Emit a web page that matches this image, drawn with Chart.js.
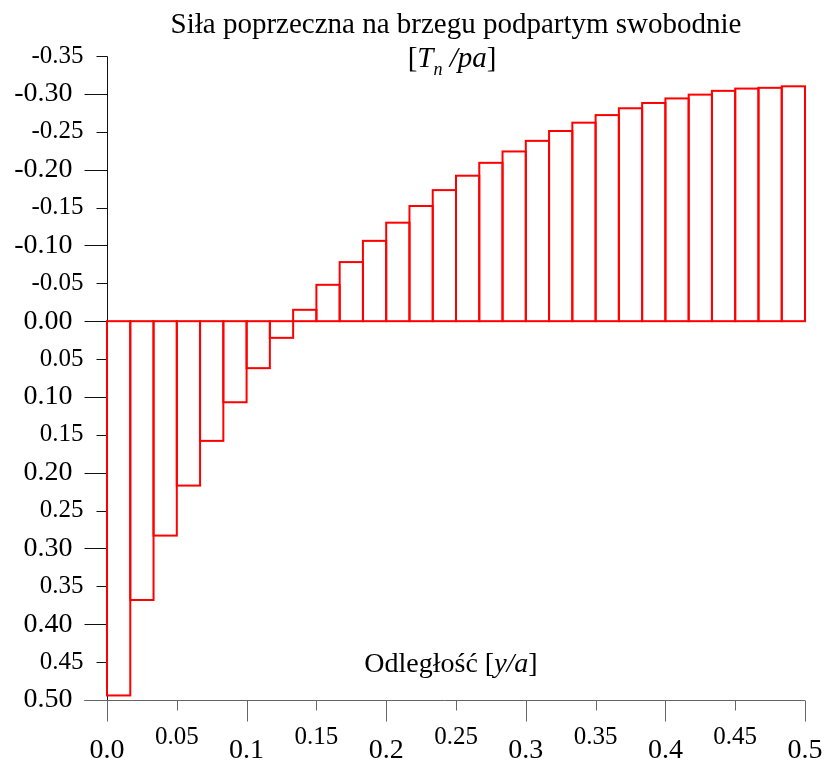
<!doctype html>
<html lang="pl">
<head>
<meta charset="utf-8">
<title>Siła poprzeczna na brzegu podpartym swobodnie</title>
<style>
  html, body { margin: 0; padding: 0; background: #fff; }
  #wrap { width: 825px; height: 760px; }
</style>
</head>
<body>
<div id="wrap"><canvas id="chart" width="825" height="760"></canvas></div>
<script src="https://cdn.jsdelivr.net/npm/chart.js"></script>
<script>
// shear force T_n/pa for each of the 30 strips along y/a (0 .. 0.5)
const shear = [0.494, 0.368, 0.283, 0.217, 0.158, 0.107, 0.062, 0.022, -0.015, -0.048,
               -0.078, -0.106, -0.130, -0.152, -0.173, -0.192, -0.209, -0.224, -0.238, -0.251,
               -0.262, -0.272, -0.281, -0.288, -0.294, -0.299, -0.304, -0.307, -0.308, -0.310];
const stripWidth = 0.5 / 30;
const distance = shear.map((v, i) => stripWidth * (i + 0.5));

const xMajor = [0, 0.1, 0.2, 0.3, 0.4, 0.5];
const xMajorLabels = ['0.0', '0.1', '0.2', '0.3', '0.4', '0.5'];
const xMinor = [0.05, 0.15, 0.25, 0.35, 0.45];
const xMinorLabels = ['0.05', '0.15', '0.25', '0.35', '0.45'];
const yMajor = [-0.3, -0.2, -0.1, 0, 0.1, 0.2, 0.3, 0.4, 0.5];
const yMinor = [-0.35, -0.25, -0.15, -0.05, 0.05, 0.15, 0.25, 0.35, 0.45];

const serif = '"Liberation Serif", "Times New Roman", serif';
const crisp = v => Math.round(v) + 0.5;

// axes, ticks and texts drawn by hand (major/minor ticks differ in size)
const frame = {
  id: 'frame',
  beforeDatasetsDraw(chart) {
    const { ctx, chartArea, scales: { x, y } } = chart;
    const x0 = crisp(x.getPixelForValue(0));
    const xr = x.getPixelForValue(0.5);
    const yt = crisp(y.getPixelForValue(-0.35));
    const yb = crisp(y.getPixelForValue(0.5));
    ctx.save();
    ctx.lineWidth = 1;

    // y axis
    ctx.strokeStyle = '#111';
    ctx.beginPath();
    ctx.moveTo(x0, yt);
    ctx.lineTo(x0, yb);
    yMajor.forEach(v => {
      const p = crisp(y.getPixelForValue(v));
      ctx.moveTo(x0 - 23, p);
      ctx.lineTo(x0, p);
    });
    yMinor.forEach(v => {
      const p = crisp(y.getPixelForValue(v));
      ctx.moveTo(x0 - 11, p);
      ctx.lineTo(x0, p);
    });
    ctx.stroke();

    // x axis
    ctx.strokeStyle = '#666';
    ctx.beginPath();
    ctx.moveTo(x0 - 23, yb);
    ctx.lineTo(xr, yb);
    xMajor.forEach(v => {
      const p = crisp(x.getPixelForValue(v));
      ctx.moveTo(p, yb);
      ctx.lineTo(p, yb + 21);
    });
    xMinor.forEach(v => {
      const p = crisp(x.getPixelForValue(v));
      ctx.moveTo(p, yb);
      ctx.lineTo(p, yb + 10);
    });
    ctx.stroke();

    // tick labels
    ctx.fillStyle = '#000';
    ctx.textAlign = 'right';
    ctx.textBaseline = 'middle';
    ctx.font = '28px ' + serif;
    yMajor.forEach(v => ctx.fillText(v.toFixed(2), x0 - 35, y.getPixelForValue(v)));
    ctx.font = '25px ' + serif;
    yMinor.forEach(v => ctx.fillText(v.toFixed(2), x0 - 24, y.getPixelForValue(v)));

    ctx.textAlign = 'center';
    ctx.textBaseline = 'alphabetic';
    ctx.font = '28px ' + serif;
    xMajor.forEach((v, i) => ctx.fillText(xMajorLabels[i], x.getPixelForValue(v), yb + 57));
    ctx.font = '25px ' + serif;
    xMinor.forEach((v, i) => ctx.fillText(xMinorLabels[i], x.getPixelForValue(v), yb + 43));

    // title
    const cx = (chartArea.left + chartArea.right) / 2;
    ctx.font = '29px ' + serif;
    ctx.fillText('Siła poprzeczna na brzegu podpartym swobodnie', cx, 33);
    drawRich(ctx, [
      ['[', '29px', 0],
      ['T', 'italic 29px', 0],
      ['n', 'italic 18px', 8],
      [' /pa', 'italic 29px', 0],
      [']', '29px', 0]
    ], cx - 4, 67);

    // x axis title, inside the plot
    drawRich(ctx, [
      ['Odległość [', '28px', 0],
      ['y/a', 'italic 28px', 0],
      [']', '28px', 0]
    ], cx - 5, 672);
    ctx.restore();
  },
  afterDatasetsDraw(chart) {
    const { ctx } = chart;
    ctx.save();
    ctx.strokeStyle = '#ff0000';
    ctx.lineWidth = 2;
    chart.getDatasetMeta(0).data.forEach(bar => {
      const { x, y, base, width } = bar.getProps(['x', 'y', 'base', 'width'], true);
      ctx.strokeRect(x - width / 2, Math.min(y, base), width, Math.abs(base - y));
    });
    ctx.restore();
  }
};

function drawRich(ctx, parts, center, baseline) {
  let total = 0;
  parts.forEach(([t, f]) => { ctx.font = f + ' ' + serif; total += ctx.measureText(t).width; });
  let px = center - total / 2;
  ctx.textAlign = 'left';
  parts.forEach(([t, f, dy]) => {
    ctx.font = f + ' ' + serif;
    ctx.fillText(t, px, baseline + dy);
    px += ctx.measureText(t).width;
  });
  ctx.textAlign = 'center';
}

new Chart(document.getElementById('chart'), {
  type: 'bar',
  data: {
    datasets: [{
      data: distance.map((d, i) => ({ x: d, y: shear[i] })),
      backgroundColor: 'rgba(255,255,255,0)',
      borderWidth: 0,
      barPercentage: 1,
      categoryPercentage: 1
    }]
  },
  options: {
    responsive: false,
    animation: false,
    layout: { padding: { left: 107, right: 20, top: 56, bottom: 60 } },
    plugins: {
      legend: { display: false },
      title: { display: false },
      tooltip: { enabled: false }
    },
    scales: {
      x: { type: 'linear', min: 0, max: 0.5, offset: false, display: false },
      y: { type: 'linear', min: -0.35, max: 0.5, reverse: true, display: false }
    }
  },
  plugins: [frame]
});
</script>
</body>
</html>
